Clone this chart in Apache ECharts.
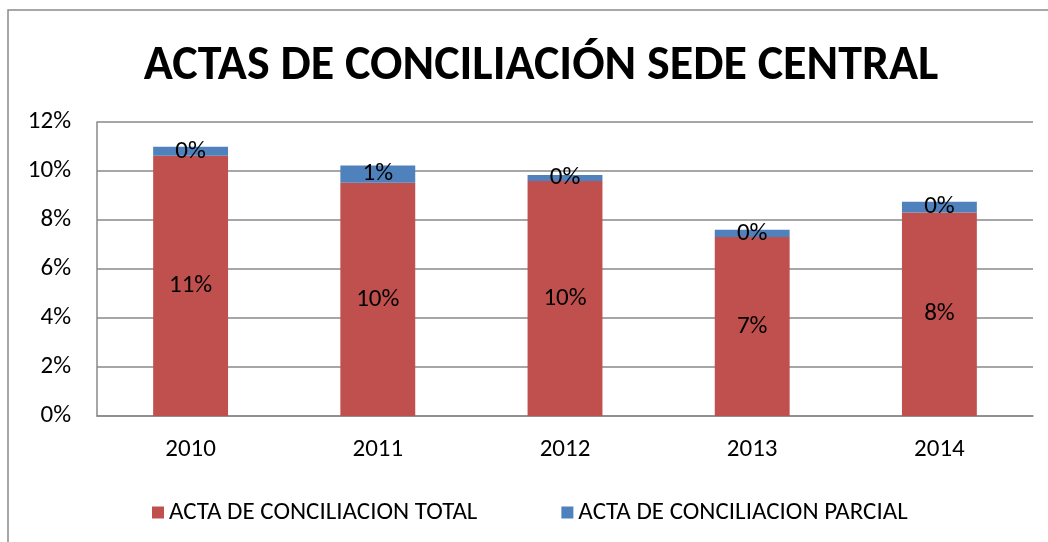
<!DOCTYPE html>
<html>
<head>
<meta charset="utf-8">
<script src="https://cdn.jsdelivr.net/npm/echarts@6/dist/echarts.min.js"></script>
<style>
  html, body { margin: 0; padding: 0; background: #fff; }
  #chart { width: 1048px; height: 542px; }
</style>
</head>
<body>
<div id="chart"></div>
<script>
const years = ['2010', '2011', '2012', '2013', '2014']
const actaTotal = [10.62, 9.52, 9.59, 7.31, 8.31]
const actaParcial = [0.37, 0.70, 0.25, 0.29, 0.43]
const yTicks = [0, 2, 4, 6, 8, 10, 12]

const FONT = 'Carlito, Lato, "Open Sans", sans-serif'

const chart = echarts.init(document.getElementById('chart'))

const pct = (p) => Math.round(p.value) + '%'

chart.setOption({
  backgroundColor: '#fff',
  animation: false,
  textStyle: { fontFamily: FONT },
  graphic: [
    {
      type: 'rect',
      shape: { x: 8, y: 10, width: 1200, height: 700 },
      style: { fill: 'none', stroke: '#8a8a8a', lineWidth: 1.5 },
      silent: true,
    },
  ],
  title: {
    text: 'ACTAS DE CONCILIACIÓN SEDE CENTRAL',
    left: 536,
    textAlign: 'center',
    top: 38,
    textStyle: { fontFamily: FONT, fontSize: 48, fontWeight: 'bold', color: '#000' },
  },
  legend: {
    left: 147,
    top: 495,
    itemWidth: 12,
    itemHeight: 12,
    itemGap: 84,
    icon: 'rect',
    textStyle: { fontFamily: FONT, fontSize: 25, color: '#000' },
    data: ['ACTA DE CONCILIACION TOTAL', 'ACTA DE CONCILIACION PARCIAL'],
  },
  grid: { left: 97, right: 15, top: 122, bottom: 126 },
  xAxis: {
    type: 'category',
    data: years,
    axisLine: { lineStyle: { color: '#898989', width: 1.5 } },
    axisTick: { show: false },
    axisLabel: { color: '#000', fontSize: 25, margin: 21, fontFamily: FONT },
  },
  yAxis: {
    type: 'value',
    min: yTicks[0],
    max: yTicks[yTicks.length - 1],
    interval: 2,
    axisLine: { show: true, lineStyle: { color: '#898989', width: 1.5 } },
    axisTick: { show: false },
    splitLine: { lineStyle: { color: '#898989', width: 1.5 } },
    axisLabel: { color: '#000', fontSize: 25, margin: 26, fontFamily: FONT, formatter: '{value}%' },
  },
  series: [
    {
      name: 'ACTA DE CONCILIACION TOTAL',
      type: 'bar',
      stack: 'total',
      barWidth: '40%',
      data: actaTotal,
      itemStyle: { color: '#C0504D' },
      label: { show: true, position: 'inside', color: '#000', fontSize: 25, fontFamily: FONT, formatter: pct },
    },
    {
      name: 'ACTA DE CONCILIACION PARCIAL',
      type: 'bar',
      stack: 'total',
      barWidth: '40%',
      data: actaParcial,
      itemStyle: { color: '#4F81BD' },
      label: { show: true, position: 'inside', color: '#000', fontSize: 25, fontFamily: FONT, formatter: pct },
    },
  ],
})
</script>
</body>
</html>
